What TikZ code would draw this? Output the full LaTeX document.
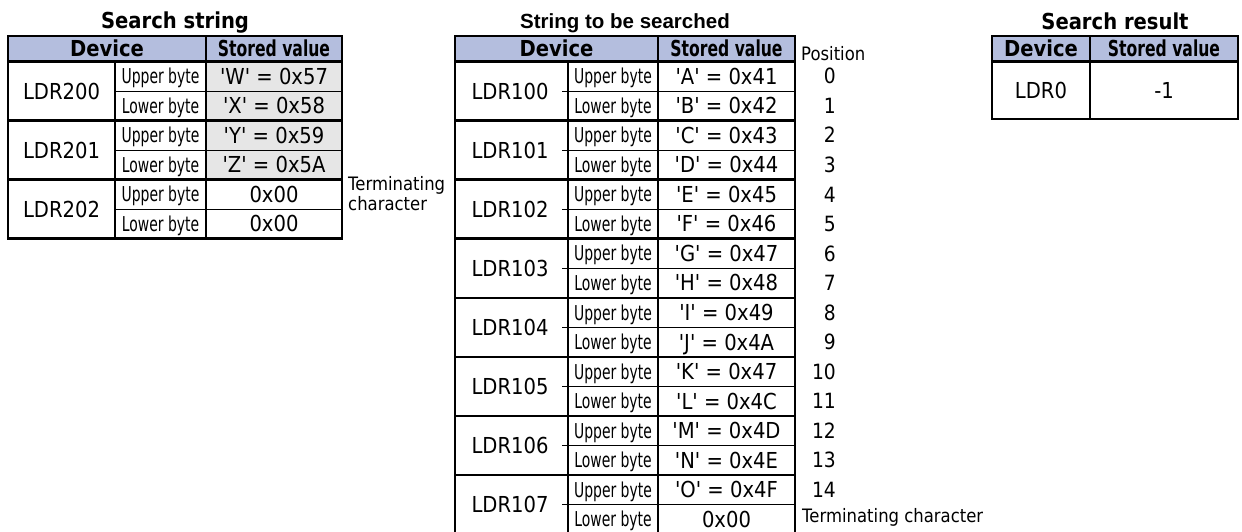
\documentclass[tikz,border=0pt]{standalone}
\usepackage{fontspec}
\setmainfont{DejaVu Sans}
\newfontfamily\tah[FakeStretch=0.89,Ligatures=TeXOff]{DejaVu Sans}
\newfontfamily\tahn[FakeStretch=0.68,Ligatures=TeXOff]{DejaVu Sans}
\newfontfamily\tahh[FakeStretch=0.71,Ligatures=TeXOff]{DejaVu Sans}
\newfontfamily\arl{Liberation Sans}
\definecolor{hdr}{RGB}{180,190,222}
\definecolor{gry}{RGB}{230,230,230}
\begin{document}
\begin{tikzpicture}[x=1pt,y=-1pt,
  bl/.style={line width=2.4pt},
  sl/.style={line width=1pt},
  cell/.style={inner sep=0pt,text height=16pt,text depth=0pt,font=\tah\fontsize{22}{26}\selectfont},
  hd/.style={inner sep=0pt,text height=16pt,text depth=0pt,font=\tah\bfseries\fontsize{22}{26}\selectfont},
  hdn/.style={inner sep=0pt,text height=16pt,text depth=0pt,font=\tahh\bfseries\fontsize{22}{26}\selectfont},
  byt/.style={inner sep=0pt,text height=15pt,text depth=0pt,font=\tahn\fontsize{20.5}{24}\selectfont},
  num/.style={inner sep=0pt,text height=15.3pt,text depth=0pt,anchor=east,font=\tah\fontsize{21}{25}\selectfont},
  note/.style={inner sep=0pt,font=\tah\fontsize{18.5}{21}\selectfont},
  ttl/.style={inner sep=0pt,anchor=base,font=\tah\bfseries\fontsize{22}{26}\selectfont}
]
\useasboundingbox (0,0) rectangle (1242,531);
\clip (0,0) rectangle (1242,531);
\def\hh{29.53}
% ---------------- titles
\node[ttl] (t1) at (175,28) {Search string};
\node[ttl,font=\arl\bfseries\fontsize{20.5}{24}\selectfont] (t2) at (625,28) {String to be searched};
\node[ttl] (t3) at (1115,29) {Search result};
% ---------------- table 1 : search string
\fill[hdr] (8,36) rectangle (342,61.5);
\fill[gry] (206,61.5) rectangle (342,{61.5+4*\hh});
\foreach \g in {0,1,2}{
  \draw[sl] (115,{61.5+(2*\g+1)*\hh}) -- (342,{61.5+(2*\g+1)*\hh});
}
\foreach \g in {1,2}{
  \draw[bl] (8,{61.5+2*\g*\hh}) -- (342,{61.5+2*\g*\hh});
}
\draw[bl] (8,61.5) -- (342,61.5);
\draw[bl] (115,61.5) -- (115,{61.5+6*\hh});
\draw[bl] (206,36) -- (206,{61.5+6*\hh});
\draw[bl] (8,36) rectangle (342,{61.5+6*\hh});
\node[hd] (a-dev) at (107,48.75) {Device};
\node[hdn] (a-val) at (274,48.75) {Stored value};
\foreach \g/\n in {0/LDR200,1/LDR201,2/LDR202}{
  \node[cell] (a-\n) at (61.5,{61.5+(2*\g+1)*\hh}) {\n};
}
\foreach \i/\v in {0/{'W' = 0x57},1/{'X' = 0x58},2/{'Y' = 0x59},3/{'Z' = 0x5A},4/{0x00},5/{0x00}}{
  \pgfmathtruncatemacro\odd{mod(\i,2)}
  \ifnum\odd=0 \def\bt{Upper byte}\else\def\bt{Lower byte}\fi
  \node[byt] (a-b\i) at (160.5,{61.5+(\i+0.5)*\hh}) {\bt};
  \node[cell] (a-v\i) at (274,{61.5+(\i+0.5)*\hh}) {\v};
}
\node[note,anchor=base west] (a-term1) at (348,190) {Terminating};
\node[note,anchor=base west] (a-term2) at (348,210) {character};
% ---------------- table 2 : string to be searched
\fill[hdr] (455,36) rectangle (795,61.5);
\foreach \g in {0,...,7}{
  \draw[sl] (562,{61.5+(2*\g+1)*\hh}) -- (795,{61.5+(2*\g+1)*\hh});
}
\foreach \g in {1,...,7}{
  \draw[bl] (455,{61.5+2*\g*\hh}) -- (795,{61.5+2*\g*\hh});
}
\draw[bl] (455,61.5) -- (795,61.5);
\draw[bl] (568,61.5) -- (568,{61.5+16*\hh});
\draw[bl] (658,36) -- (658,{61.5+16*\hh});
\draw[bl] (455,36) rectangle (795,{61.5+16*\hh});
\node[hd] (b-dev) at (556.5,48.75) {Device};
\node[hdn] (b-val) at (726.5,48.75) {Stored value};
\foreach \g/\n in {0/LDR100,1/LDR101,2/LDR102,3/LDR103,4/LDR104,5/LDR105,6/LDR106,7/LDR107}{
  \node[cell] (b-\n) at (510,{61.5+(2*\g+1)*\hh}) {\n};
}
\foreach \i/\v in {0/{'A' = 0x41},1/{'B' = 0x42},2/{'C' = 0x43},3/{'D' = 0x44},4/{'E' = 0x45},5/{'F' = 0x46},6/{'G' = 0x47},7/{'H' = 0x48},8/{'I' = 0x49},9/{'J' = 0x4A},10/{'K' = 0x47},11/{'L' = 0x4C},12/{'M' = 0x4D},13/{'N' = 0x4E},14/{'O' = 0x4F},15/{0x00}}{
  \pgfmathtruncatemacro\odd{mod(\i,2)}
  \ifnum\odd=0 \def\bt{Upper byte}\else\def\bt{Lower byte}\fi
  \node[byt] (b-b\i) at (613,{61.5+(\i+0.5)*\hh}) {\bt};
  \node[cell] (b-v\i) at (726.5,{61.5+(\i+0.5)*\hh}) {\v};
}
\foreach \i in {0,...,14}{
  \node[num] (b-p\i) at (836,{61.5+(\i+0.5)*\hh}) {\i};
}
\node[note,anchor=base west] (b-pos) at (801,60) {Position};
\node[note,anchor=west,text height=13.5pt,text depth=0pt] (b-term) at (802,516) {Terminating character};
% ---------------- table 3 : search result
\fill[hdr] (992,36) rectangle (1238,61.5);
\draw[bl] (992,61.5) -- (1238,61.5);
\draw[bl] (1090,36) -- (1090,119);
\draw[bl] (992,36) rectangle (1238,119);
\node[hd] (c-dev) at (1041,48.75) {Device};
\node[hdn] (c-val) at (1164,48.75) {Stored value};
\node[cell] (c-ldr) at (1041,90.25) {LDR0};
\node[cell] (c-res) at (1164,90.25) {-1};
\end{tikzpicture}
\end{document}
